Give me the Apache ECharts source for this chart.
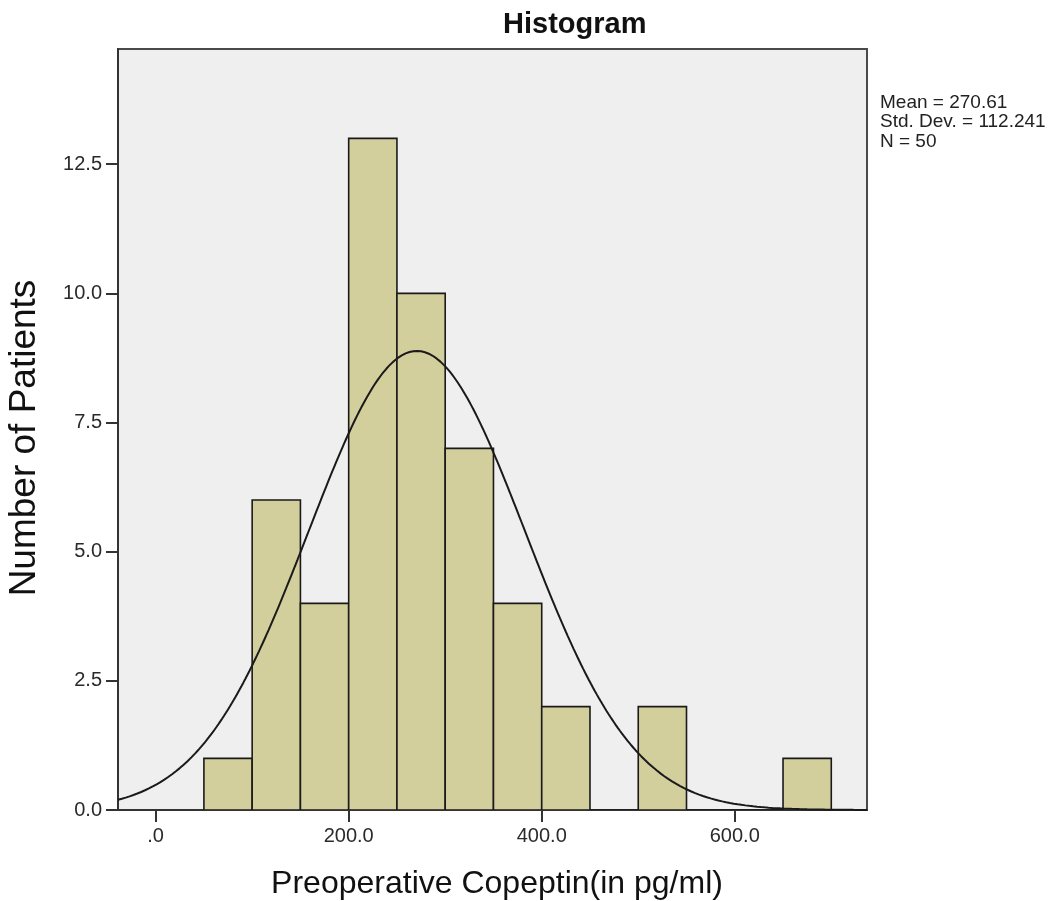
<!DOCTYPE html>
<html>
<head>
<meta charset="utf-8">
<style>
  html, body { margin: 0; padding: 0; background: #ffffff; }
  #chart { width: 1064px; height: 901px; }
</style>
<script src="https://cdn.jsdelivr.net/npm/echarts@6/dist/echarts.min.js"></script>
</head>
<body>
<div id="chart"></div>
<script>
// Histogram bins (pg/ml) and patient counts
const binStarts = [50, 100, 150, 200, 250, 300, 350, 400, 450, 500, 550, 600, 650];
const binWidth = 50;
const counts = [1, 6, 4, 13, 10, 7, 4, 2, 0, 2, 0, 0, 1];

// Summary statistics shown beside the plot
const MEAN = 270.61;
const STD_DEV = 112.241;
const N = 50;

// Axis tick values
const xTicks = [0, 200, 400, 600];
const yTicks = [0, 2.5, 5, 7.5, 10, 12.5];

const X_MIN = -39, X_MAX = 737, Y_MAX = 14.73;

// Bars as [start, end, count]
const barData = binStarts.map((s, i) => [s, s + binWidth, counts[i]]);

// Fitted normal curve scaled to counts per bin
const curveData = [];
for (let x = X_MIN; x <= X_MAX; x += 2) {
  const z = (x - MEAN) / STD_DEV;
  const y = N * binWidth * Math.exp(-0.5 * z * z) / (STD_DEV * Math.sqrt(2 * Math.PI));
  curveData.push([x, y]);
}

const FONT = '"Liberation Sans", Arial, Helvetica, sans-serif';
const chart = echarts.init(document.getElementById('chart'), null, { renderer: 'canvas' });

chart.setOption({
  backgroundColor: '#ffffff',
  animation: false,
  grid: {
    left: 118, right: 197, top: 49, bottom: 91,
    outerBoundsMode: 'none',
    containLabel: false,
    show: true,
    backgroundColor: '#efefef',
    borderColor: '#4a4a4a',
    borderWidth: 2
  },
  xAxis: {
    type: 'value',
    min: X_MIN, max: X_MAX,
    axisLine: { show: true, onZero: false, lineStyle: { color: '#333', width: 2 } },
    axisTick: { show: true, length: 12, customValues: xTicks, lineStyle: { color: '#333', width: 2 } },
    axisLabel: {
      customValues: xTicks,
      fontFamily: FONT, fontSize: 20, color: '#2a2a2a', margin: 16,
      formatter: v => (v === 0 ? '.0' : v.toFixed(1))
    },
    splitLine: { show: false }
  },
  yAxis: {
    type: 'value',
    min: 0, max: Y_MAX,
    axisLine: { show: true, onZero: false, lineStyle: { color: '#333', width: 2 } },
    axisTick: { show: true, length: 12, customValues: yTicks, lineStyle: { color: '#333', width: 2 } },
    axisLabel: {
      customValues: yTicks,
      fontFamily: FONT, fontSize: 20, color: '#2a2a2a', margin: 16,
      formatter: v => v.toFixed(1)
    },
    splitLine: { show: false }
  },
  graphic: [
    {
      type: 'text',
      left: 503, top: 10,
      style: { text: 'Histogram', font: 'bold 29px ' + FONT, fill: '#111' }
    },
    {
      type: 'text',
      x: 497, y: 884,
      style: {
        text: 'Preoperative Copeptin(in pg/ml)',
        font: '32px ' + FONT, fill: '#111',
        align: 'center', verticalAlign: 'middle'
      }
    },
    {
      type: 'text',
      x: 25, y: 438,
      rotation: Math.PI / 2,
      style: {
        text: 'Number of Patients',
        font: '37px ' + FONT, fill: '#111',
        align: 'center', verticalAlign: 'middle'
      }
    },
    {
      type: 'text',
      left: 880, top: 93,
      style: {
        text: 'Mean = ' + MEAN.toFixed(2) + '\nStd. Dev. = ' + STD_DEV.toFixed(3) + '\nN = ' + N,
        font: '19px ' + FONT, fill: '#222', lineHeight: 19.5
      }
    }
  ],
  series: [
    {
      type: 'custom',
      clip: true,
      data: barData,
      encode: { x: [0, 1], y: 2 },
      renderItem: function (params, api) {
        const p0 = api.coord([api.value(0), api.value(2)]);
        const p1 = api.coord([api.value(1), 0]);
        return {
          type: 'rect',
          shape: { x: p0[0], y: p0[1], width: p1[0] - p0[0], height: p1[1] - p0[1] },
          style: { fill: '#d3cf9d', stroke: '#1a1a1a', lineWidth: 1.6 }
        };
      },
      z: 2
    },
    {
      type: 'line',
      data: curveData,
      showSymbol: false,
      smooth: false,
      clip: true,
      lineStyle: { color: '#1a1a1a', width: 2 },
      z: 3
    }
  ]
});
</script>
</body>
</html>
